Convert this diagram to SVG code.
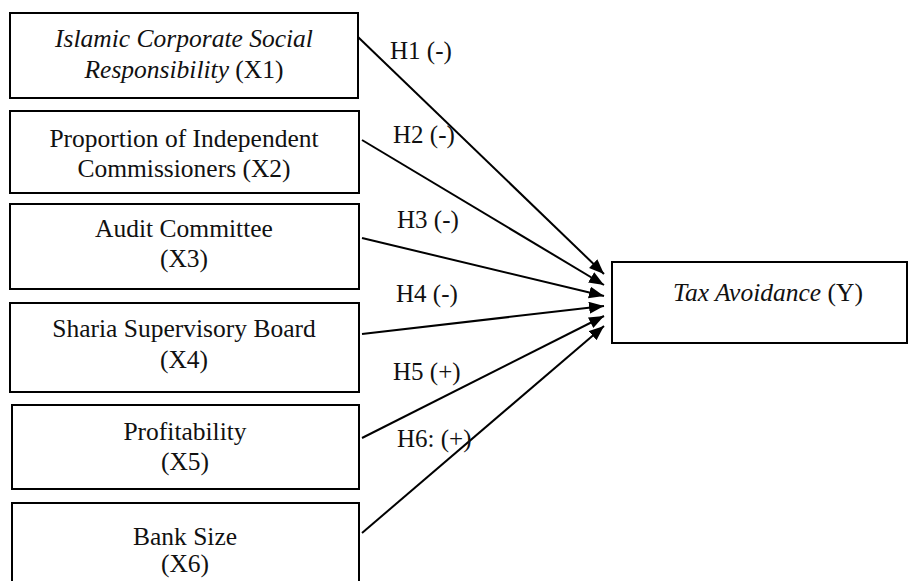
<svg xmlns="http://www.w3.org/2000/svg" width="909" height="581" viewBox="0 0 909 581">
<style>
.box{fill:#fff;stroke:#000;stroke-width:2}
.t{font-size:25.5px;fill:#111;text-anchor:middle}
.l{font-size:25px;fill:#111}
.c{stroke:#000;stroke-width:2;fill:none;marker-end:url(#ah)}
</style>
<defs>
<marker id="ah" markerUnits="userSpaceOnUse" markerWidth="16" markerHeight="14" refX="15" refY="6" orient="auto">
<path d="M0,0 L15,6 L0,12 Z" fill="#000"/>
</marker>
</defs>
<rect width="909" height="581" fill="#fff"/>
<g font-family="'Liberation Serif', 'Times New Roman', Tinos, 'DejaVu Serif', serif">
<g id="x1"><rect class="box" x="10" y="13" width="348" height="85"/>
<text class="t" x="184" y="47"><tspan font-style="italic">Islamic Corporate Social</tspan></text>
<text class="t" x="184" y="78"><tspan font-style="italic">Responsibility</tspan> (X1)</text></g>
<g id="x2"><rect class="box" x="10" y="111" width="349" height="82"/>
<text class="t" x="184" y="147">Proportion of Independent</text>
<text class="t" x="184" y="177">Commissioners (X2)</text></g>
<g id="x3"><rect class="box" x="10" y="204" width="349" height="85"/>
<text class="t" x="184" y="237">Audit Committee</text>
<text class="t" x="184" y="267">(X3)</text></g>
<g id="x4"><rect class="box" x="10" y="303" width="349" height="89"/>
<text class="t" x="184" y="337">Sharia Supervisory Board</text>
<text class="t" x="184" y="368">(X4)</text></g>
<g id="x5"><rect class="box" x="12" y="405" width="347" height="84"/>
<text class="t" x="185" y="440">Profitability</text>
<text class="t" x="185" y="470">(X5)</text></g>
<g id="x6"><rect class="box" x="12" y="503" width="347" height="90"/>
<text class="t" x="185" y="545">Bank Size</text>
<text class="t" x="185" y="572">(X6)</text></g>
<g id="y"><rect class="box" x="612" y="262" width="295" height="81"/>
<text class="t" x="768" y="301"><tspan font-style="italic">Tax Avoidance</tspan> (Y)</text></g>
<g id="connectors">
<path class="c" d="M358,37 L604,274"/>
<path class="c" d="M362,140 L604,285"/>
<path class="c" d="M362,238 L604,296"/>
<path class="c" d="M362,334 L604,306"/>
<path class="c" d="M362,438 L604,316"/>
<path class="c" d="M362,533 L604,326"/>
<text class="l" x="390" y="59">H1 (-)</text>
<text class="l" x="393" y="143">H2 (-)</text>
<text class="l" x="397" y="228">H3 (-)</text>
<text class="l" x="396" y="302">H4 (-)</text>
<text class="l" x="393" y="380">H5 (+)</text>
<text class="l" x="397" y="447">H6: (+)</text>
</g>
</g>
</svg>
